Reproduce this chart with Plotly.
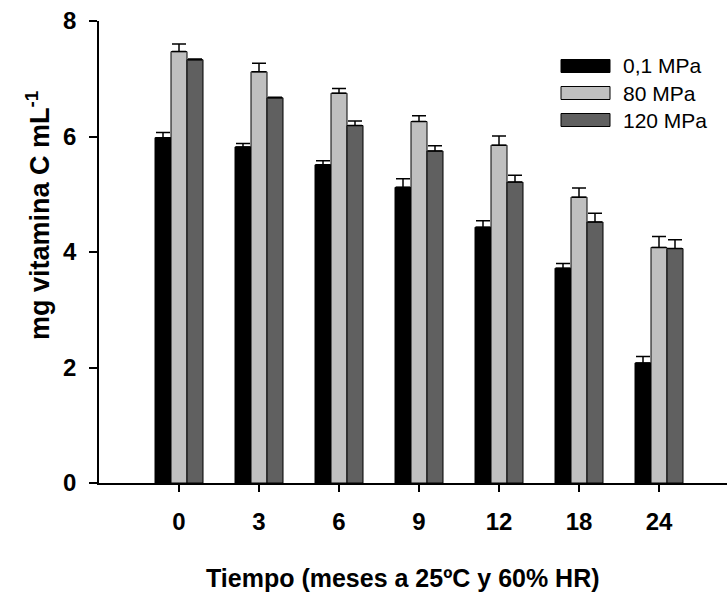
import plotly.graph_objects as go

categories = ["0", "3", "6", "9", "12", "18", "24"]
series_names = ["0,1 MPa", "80 MPa", "120 MPa"]
vals_01 = [5.98, 5.82, 5.51, 5.12, 4.43, 3.72, 2.08]
err_01 = [0.09, 0.06, 0.07, 0.15, 0.11, 0.08, 0.11]
vals_80 = [7.47, 7.12, 6.75, 6.26, 5.85, 4.95, 4.08]
err_80 = [0.13, 0.15, 0.08, 0.10, 0.16, 0.16, 0.19]
vals_120 = [7.33, 6.67, 6.19, 5.75, 5.21, 4.52, 4.06]
err_120 = [0.01, 0.01, 0.08, 0.09, 0.12, 0.15, 0.15]
colors = ["#000000", "#c0c0c0", "#606060"]
y_ticks = [0, 2, 4, 6, 8]

FONT = "Arial, Liberation Sans, sans-serif"
W, H = 728, 597
ML, MR, MT, MB = 99, 1, 21, 114

fig = go.Figure()
for name, v, e, c in zip(series_names, [vals_01, vals_80, vals_120],
                         [err_01, err_80, err_120], colors):
    fig.add_trace(go.Bar(
        x=categories, y=v, name=name, marker_color=c,
        marker_line=dict(color="#000000", width=1),
        error_y=dict(type="data", array=e, arrayminus=[0] * len(e),
                     symmetric=False, color="#000000", thickness=1.5, width=7),
        showlegend=False,
    ))

fig.update_layout(
    width=W, height=H,
    margin=dict(l=ML, r=MR, t=MT, b=MB),
    paper_bgcolor="white", plot_bgcolor="white",
    barmode="group", bargap=0.4, bargroupgap=0,
    font=dict(family=FONT, color="#000000"),
    xaxis=dict(type="category", range=[-1, 6.85], showline=True,
               linecolor="#000000", linewidth=1.5, ticks="outside",
               ticklen=7, tickwidth=1.5, tickcolor="#000000",
               tickfont=dict(size=24, weight="bold", family=FONT),
               ticklabelstandoff=9, showgrid=False, zeroline=False),
    yaxis=dict(range=[0, 8], tickvals=y_ticks, showline=True,
               linecolor="#000000", linewidth=1.5, ticks="outside",
               ticklen=8, tickwidth=1.5, tickcolor="#000000",
               tickfont=dict(size=24, weight="bold", family=FONT),
               ticklabelstandoff=8, showgrid=False, zeroline=False),
)

# axis titles
fig.add_annotation(text="Tiempo (meses a 25ºC y 60% HR)", xref="paper", yref="paper",
                   x=(403 - ML) / (W - ML - MR), y=-(578 - (H - MB)) / (H - MT - MB),
                   showarrow=False, xanchor="center", yanchor="middle",
                   font=dict(size=25, weight="bold", family=FONT))
fig.add_annotation(text="mg vitamina C mL<sup>-1</sup>", xref="paper", yref="paper",
                   x=-(ML - 38) / (W - ML - MR), y=1 - (216 - MT) / (H - MT - MB),
                   showarrow=False, xanchor="center", yanchor="middle", textangle=-90,
                   font=dict(size=27, weight="bold", family=FONT))

# legend drawn manually
pw, ph = W - ML - MR, H - MT - MB
for i, (name, c) in enumerate(zip(series_names, colors)):
    cy = 66 + 27 * i
    fig.add_shape(type="rect", xref="paper", yref="paper",
                  x0=(561 - ML) / pw, x1=(610 - ML) / pw,
                  y0=1 - (cy + 6.5 - MT) / ph, y1=1 - (cy - 6.5 - MT) / ph,
                  fillcolor=c, line=dict(color="#000000", width=1))
    fig.add_annotation(text=name, xref="paper", yref="paper",
                       x=(621 - ML) / pw, y=1 - (cy - MT) / ph,
                       xanchor="left", yanchor="middle", showarrow=False,
                       font=dict(size=21, family=FONT))

fig.write_html("out.html")
